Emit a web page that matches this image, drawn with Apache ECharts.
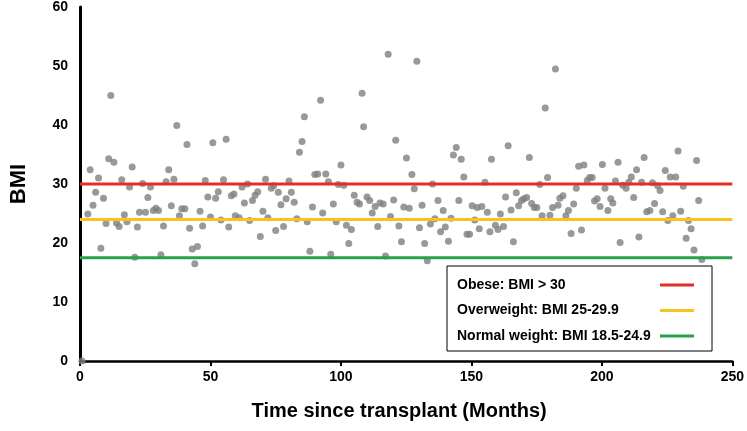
<!DOCTYPE html>
<html>
<head>
<meta charset="utf-8">
<script src="https://cdn.jsdelivr.net/npm/echarts@6/dist/echarts.min.js"></script>
<style>
html,body{margin:0;padding:0;background:#fff;}
#chart{width:747px;height:431px;}
</style>
</head>
<body>
<div id="chart"></div>
<script>
// Months since transplant
const months = [
0.8,3,3.9,5,6,7.1,8,9,10,11,11.8,13,14,15,16,17,18,19,20,21,22,22.8,24,25.1,26,27,28.1,29.1,30.1,31,32,33,34,35,36,37.1,38.1,39,40.2,41,42,43,44,45,46,47,48,49,50,50.9,52,53,54,55,56,57,58,59,59.5,
61,62.1,63,64.2,65,66.1,67.1,68.1,69.1,70.1,71.1,72,73.3,74.2,75,76,77,78,79,80.1,81,82.1,83.1,84.1,85.1,86,87.1,88.1,89.1,90,91.1,92.2,93,94.2,95.2,96.1,97.1,98.2,99,100,101.1,102.1,103,104,105.1,106.2,107.1,108.1,108.7,
110,111,112,113.1,114.1,115,116.2,117.1,118.1,119,120.2,121,122.2,123.2,124.1,125.1,126.2,127.2,128.1,129.1,130.1,131.1,132.1,133.1,134.3,135.1,136,137.2,138.2,139.2,140,141.2,142.2,143.1,144.2,145.2,146.1,147.1,148.3,149.3,150.3,151.3,152.2,153,154,155.2,156.1,157.1,157.7,
159.2,160.2,161.1,162.3,163.1,164.1,165.2,166.1,167.2,168.1,169.2,170.1,171.2,172.2,173.1,174.1,175.1,176.2,177.1,178.3,179.2,180.1,181.1,182.2,183.2,183.9,185.1,186.2,187.2,188.2,189.2,190.2,191.1,192.2,193.1,194.4,195.3,196.3,197.2,198.2,199.3,200.2,201.2,202.3,203.4,204.2,205.2,206.2,207,
208,209.3,210.3,211.3,212.2,213.3,214.2,215.2,216.2,217.2,218.4,219.4,220.2,221.4,222.3,223.3,224.3,225.3,226.2,227.2,228.3,229.2,230.2,231.2,232.3,233.2,234.2,235.3,236.3,237.1,238.3
];
// BMI values, same order as months
const bmi = [
0,24.9,32.4,26.4,28.6,31.0,19.1,27.6,23.3,34.3,45.0,33.7,23.4,22.8,30.7,24.8,23.6,29.5,32.9,17.6,22.7,25.2,30.1,25.2,27.7,29.5,25.5,25.9,25.5,18.0,22.9,30.4,32.4,26.3,30.8,39.9,24.6,25.8,25.8,36.7,22.5,19.0,16.5,19.4,25.4,22.9,30.6,27.8,24.4,37.0,27.6,28.7,23.9,30.7,37.6,22.7,28.0,28.3,24.6,
24.3,29.5,26.8,30.0,23.8,27.2,28.1,28.7,21.1,25.4,30.8,24.3,29.3,29.7,22.1,28.6,26.5,22.8,27.5,30.5,28.6,26.9,24.1,35.4,37.2,41.4,23.6,18.6,26.1,31.6,31.7,44.2,25.1,31.7,30.4,18.1,26.6,23.6,29.9,33.2,29.8,23.0,19.9,22.3,28.1,26.9,26.6,45.4,39.7,
27.8,27.2,25.1,26.2,22.8,26.8,26.6,17.8,52.0,24.5,27.3,37.4,22.9,20.2,26.1,34.4,25.9,31.6,29.2,50.8,22.6,26.4,19.9,17.0,23.2,30.0,24.1,27.2,21.9,25.5,22.7,20.3,24.2,34.9,36.2,27.2,34.2,31.2,21.5,21.5,26.3,23.9,26.0,22.4,26.2,30.3,25.2,21.9,34.2,
23.0,22.3,24.9,22.8,27.8,36.5,25.6,20.2,28.5,26.3,27.2,27.5,27.7,34.5,26.7,26.0,26.0,29.9,24.6,42.9,31.1,24.7,26.0,49.5,26.4,27.6,28.0,24.6,25.5,21.6,26.6,29.3,33.0,22.2,33.2,30.6,31.1,31.1,27.1,27.5,26.2,33.3,29.3,25.5,27.5,26.8,30.5,33.7,20.1,
29.8,29.3,30.3,31.2,27.7,32.4,21.0,30.3,34.5,25.3,25.5,30.2,26.7,29.7,28.9,25.3,32.3,23.8,31.2,24.6,31.2,35.6,25.4,29.6,20.8,23.8,22.4,18.8,34.0,27.2,17.2
];
// Reference lines
const refNames = ["Obese: BMI > 30", "Overweight: BMI 25-29.9", "Normal weight: BMI 18.5-24.9"];
const refValues = [30, 24, 17.5];
const refColors = ["#e23028", "#f7c41f", "#27a24a"];
const xRange = [0, 250];
const xTicks = {min: 0, max: 250, interval: 50};
const yTicks = {min: 0, max: 60, interval: 10};

const font = "'Liberation Sans', Arial, sans-serif";
const points = months.map((m, i) => [m, bmi[i]]);

const series = [{
  type: 'scatter',
  name: 'BMI',
  data: points,
  symbolSize: 7,
  itemStyle: {color: '#7f7f7f'},
  z: 2
}];
refNames.forEach((n, i) => {
  series.push({
    type: 'line',
    name: n,
    data: [[xRange[0], refValues[i]], [xRange[1], refValues[i]]],
    showSymbol: false,
    symbol: 'none',
    color: refColors[i],
    lineStyle: {color: refColors[i], width: 3},
    z: 3
  });
});

const chart = echarts.init(document.getElementById('chart'), null, {renderer: 'canvas'});
chart.setOption({
  animation: false,
  backgroundColor: '#fff',
  grid: {left: 72, right: 14, top: 7, bottom: 70, containLabel: false},
  xAxis: {
    type: 'value',
    min: xTicks.min, max: xTicks.max, interval: xTicks.interval,
    name: 'Time since transplant (Months)',
    nameLocation: 'middle',
    nameGap: 40,
    nameTextStyle: {fontFamily: font, fontWeight: 'bold', fontSize: 20, color: '#000', padding: [0, 14, 0, 0]},
    axisLine: {show: true, lineStyle: {color: '#000', width: 2.5}},
    axisTick: {show: true, length: 5, lineStyle: {color: '#000', width: 2}},
    axisLabel: {fontFamily: font, fontWeight: 'bold', fontSize: 14, color: '#000', margin: 9},
    splitLine: {show: false}
  },
  yAxis: {
    type: 'value',
    min: yTicks.min, max: yTicks.max, interval: yTicks.interval,
    name: 'BMI',
    nameLocation: 'middle',
    nameRotate: 90,
    nameGap: 50,
    nameTextStyle: {fontFamily: font, fontWeight: 'bold', fontSize: 22, color: '#000'},
    axisLine: {show: true, lineStyle: {color: '#000', width: 3}},
    axisTick: {show: false},
    axisLabel: {fontFamily: font, fontWeight: 'bold', fontSize: 14, color: '#000', margin: 12},
    splitLine: {show: false}
  },
  legend: {
    data: refNames,
    orient: 'vertical',
    align: 'right',
    left: 447,
    top: 266,
    padding: [11, 18, 7, 10],
    itemGap: 9.5,
    itemWidth: 34,
    itemHeight: 3,
    icon: 'rect',
    borderColor: '#000',
    borderWidth: 1,
    borderRadius: 0,
    backgroundColor: '#fff',
    selectedMode: false,
    formatter: function (name) { return '{t|' + name + '}'; },
    textStyle: {
      fontFamily: font, fontWeight: 'bold', fontSize: 14, color: '#000', lineHeight: 16,
      rich: {t: {width: 198, align: 'left', fontFamily: font, fontWeight: 'bold', fontSize: 14, color: '#000', lineHeight: 16}}
    }
  },
  series: series
});
</script>
</body>
</html>
